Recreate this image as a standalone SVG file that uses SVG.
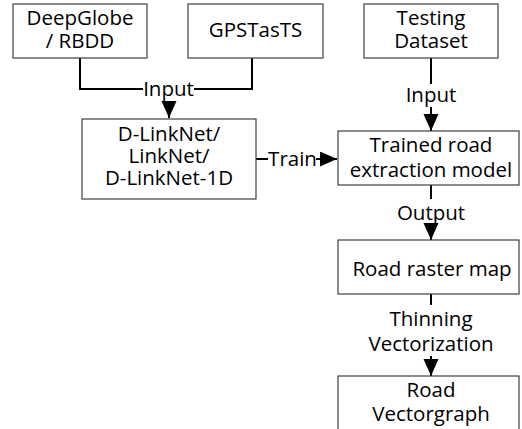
<svg xmlns="http://www.w3.org/2000/svg" width="522" height="429" viewBox="0 0 522 429">
<defs>
<style>
.box{fill:#fff;stroke:#404040;stroke-width:1.2}
.t{font-family:"Open Sans","Noto Sans",sans-serif;font-size:20.5px;fill:#000;text-anchor:middle}
.c{fill:none;stroke:#000;stroke-width:2}
</style>
<marker id="ah" markerUnits="userSpaceOnUse" markerWidth="20" markerHeight="16" refX="17" refY="7.5" orient="auto">
<path d="M0,0 L17,7.5 L0,15 Z" fill="#000"/>
</marker>
</defs>
<rect width="522" height="429" fill="#fff"/>
<g id="connectors">
<path class="c" d="M80,58 V89 H143"/>
<path class="c" d="M252,58 V89 H194"/>
<path class="c" d="M169,101 V118" marker-end="url(#ah)"/>
<path class="c" d="M256,159 H268"/>
<path class="c" d="M316,159 H337" marker-end="url(#ah)"/>
<path class="c" d="M431,58 V84"/>
<path class="c" d="M431,107 V131" marker-end="url(#ah)"/>
<path class="c" d="M431,185 V199"/>
<path class="c" d="M431,224 V240" marker-end="url(#ah)"/>
<path class="c" d="M431,294 V305"/>
<path class="c" d="M431,356 V376" marker-end="url(#ah)"/>
<text class="t" x="168.5" y="96">Input</text>
<text class="t" x="292.5" y="166">Train</text>
<text class="t" x="431" y="102">Input</text>
<text class="t" x="431" y="220">Output</text>
<text class="t" x="431" y="326">Thinning</text>
<text class="t" x="431" y="351">Vectorization</text>
</g>
<g id="deepglobe">
<rect class="box" x="13" y="4" width="134" height="54"/>
<text class="t" x="80" y="25">DeepGlobe</text>
<text class="t" x="80" y="48">/ RBDD</text>
</g>
<g id="gpstasts">
<rect class="box" x="188" y="4" width="135" height="54"/>
<text class="t" x="255.5" y="37">GPSTasTS</text>
</g>
<g id="testing">
<rect class="box" x="364" y="4" width="134" height="54"/>
<text class="t" x="431" y="25">Testing</text>
<text class="t" x="431" y="48">Dataset</text>
</g>
<g id="dlinknet">
<rect class="box" x="82" y="119" width="174" height="80"/>
<text class="t" x="169" y="141">D-LinkNet/</text>
<text class="t" x="169" y="163">LinkNet/</text>
<text class="t" x="169" y="185">D-LinkNet-1D</text>
</g>
<g id="trained">
<rect class="box" x="338" y="131" width="181" height="54"/>
<text class="t" x="431" y="152">Trained road</text>
<text class="t" x="431" y="177">extraction model</text>
</g>
<g id="raster">
<rect class="box" x="338" y="240" width="181" height="54"/>
<text class="t" x="432" y="276">Road raster map</text>
</g>
<g id="vector">
<rect class="box" x="338" y="376" width="181" height="60"/>
<text class="t" x="431" y="397">Road</text>
<text class="t" x="431" y="421">Vectorgraph</text>
</g>
</svg>
